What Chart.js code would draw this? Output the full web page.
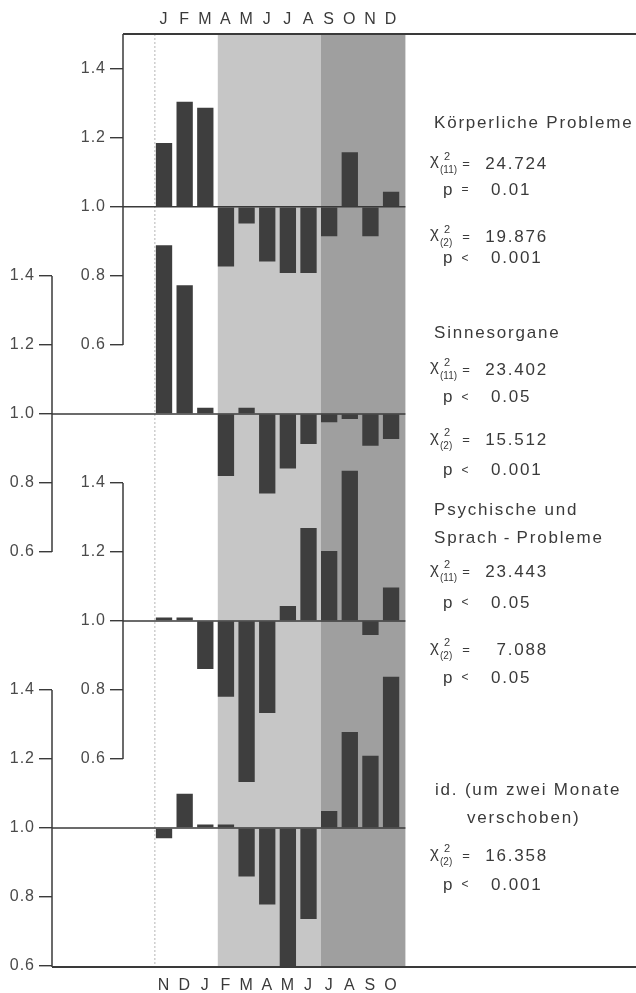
<!DOCTYPE html>
<html>
<head>
<meta charset="utf-8">
<script src="https://cdn.jsdelivr.net/npm/chart.js@4.4.1/dist/chart.umd.min.js"></script>
<style>
  html, body { margin: 0; padding: 0; background: #fff; }
</style>
</head>
<body>
<canvas id="myChart" width="636" height="993"></canvas>
<script>
// month labels: top row, and the row shifted by two months at the bottom
const topMonths = ["J", "F", "M", "A", "M", "J", "J", "A", "S", "O", "N", "D"];
const bottomMonths = ["N", "D", "J", "F", "M", "A", "M", "J", "J", "A", "S", "O"];

// relative frequency per month (1.0 = expected)
const koerperlich = [1.185, 1.305, 1.287, 0.827, 0.952, 0.842, 0.808, 0.808, 0.915, 1.158, 0.915, 1.044];
const sinnesorgane = [1.489, 1.373, 1.018, 0.82, 1.018, 0.769, 0.842, 0.913, 0.976, 0.985, 0.908, 0.927];
const psychisch = [1.01, 1.01, 0.861, 0.78, 0.533, 0.733, 1.043, 1.269, 1.203, 1.435, 0.959, 1.097];
const verschoben = [0.97, 1.099, 1.01, 1.01, 0.859, 0.778, 0.533, 0.736, 1.049, 1.278, 1.209, 1.438];

const yTicks = [0.6, 0.8, 1.0, 1.2, 1.4];

// statistics column
const statTitles = ["Körperliche Probleme", "Sinnesorgane", "Psychische und", "Sprach\u2009-\u2009Probleme", "id. (um zwei Monate", "verschoben)"];
const chiDf = ["11", "2", "11", "2", "11", "2", "2"];
const chiValue = ["24.724", "19.876", "23.402", "15.512", "23.443", "7.088", "16.358"];
const pSign = ["=", "<", "<", "<", "<", "<", "<"];
const pValue = ["0.01", "0.001", "0.05", "0.001", "0.05", "0.05", "0.001"];

const ink = "#3a3a3a";
const fontFamily = "'Liberation Sans', Arial, sans-serif";

// one y axis per panel, all the same scale, shifted by 0.6 units each
function panelAxis(min, max, weight, width) {
  return {
    type: "linear",
    position: "left",
    min: min,
    max: max,
    weight: weight,
    afterBuildTicks: function (s) {
      s.ticks = yTicks.map(function (v) { return { value: v }; });
    },
    afterFit: function (s) { s.width = width; },
    border: { display: false },
    grid: { drawOnChartArea: false, color: ink, tickColor: ink, tickLength: 13, lineWidth: 1.4 },
    ticks: {
      padding: 4,
      color: "#4a4a4a",
      font: { family: fontFamily, size: 16 },
      callback: function (v) { return v.toFixed(1); },
    },
  };
}

// bands, baselines, axis brackets, frame and the text column
const figurePlugin = {
  id: "figure",
  afterLayout: function (chart) {
    // y1 and y2 share the strip of y3 and y4, give them room for their labels
    chart.scales.y1.left = chart.scales.y3.left;
    chart.scales.y2.left = chart.scales.y4.left;
  },
  beforeDraw: function (chart) {
    const c = chart.ctx;
    const a = chart.chartArea;
    const bars = chart.getDatasetMeta(0).data;
    const edge = function (i) { return bars[i].x - bars[i].width / 2; };
    c.letterSpacing = "1px";
    c.save();
    c.fillStyle = "#c6c6c6";
    c.fillRect(edge(3), a.top, edge(8) - edge(3), a.bottom - a.top);
    c.fillStyle = "#9f9f9f";
    c.fillRect(edge(8), a.top, a.right + 4 - edge(8), a.bottom - a.top);
    c.strokeStyle = "#b5b5b5";
    c.lineWidth = 1;
    c.setLineDash([2, 2]);
    c.beginPath();
    c.moveTo(edge(0) - 1, a.top);
    c.lineTo(edge(0) - 1, a.bottom);
    c.stroke();
    c.restore();
  },
  afterDatasetsDraw: function (chart) {
    const c = chart.ctx;
    const a = chart.chartArea;
    c.save();
    c.strokeStyle = ink;
    c.lineWidth = 1.5;
    ["y1", "y2", "y3", "y4"].forEach(function (id, k) {
      const s = chart.scales[id];
      const top = k === 0 ? a.top : s.getPixelForValue(1.4);
      const bottom = k === 3 ? a.bottom : s.getPixelForValue(0.6);
      c.beginPath();
      c.moveTo(s.right, top);
      c.lineTo(s.right, bottom);
      c.stroke();
      const y = s.getPixelForValue(1);
      c.beginPath();
      c.moveTo(s.right, y);
      c.lineTo(a.right + 4, y);
      c.stroke();
    });
    c.lineWidth = 2.2;
    c.beginPath();
    c.moveTo(chart.scales.y1.right, a.top);
    c.lineTo(chart.width, a.top);
    c.stroke();
    c.beginPath();
    c.moveTo(chart.scales.y4.right, a.bottom);
    c.lineTo(chart.width, a.bottom);
    c.stroke();
    c.restore();
  },
  afterDraw: function (chart) {
    const c = chart.ctx;
    const titleX = [434, 434, 434, 434, 435, 467];
    const titleY = [123.5, 333, 510.5, 538.5, 790, 818.5];
    const chiY = [164, 237, 370, 440.5, 572.5, 650.5, 856.5];
    const pY = [190, 258.5, 397.5, 470.5, 603, 678, 885];
    c.save();
    c.fillStyle = ink;
    c.textBaseline = "middle";
    c.letterSpacing = "1.8px";
    c.font = "17px " + fontFamily;
    statTitles.forEach(function (t, i) { c.fillText(t, titleX[i], titleY[i]); });
    chiValue.forEach(function (v, i) {
      const y = chiY[i];
      c.letterSpacing = "0px";
      c.textAlign = "left";
      c.font = "17px " + fontFamily;
      c.fillText("\u03c7", 430, y - 3.5);
      c.font = "11px " + fontFamily;
      c.fillText("2", 444, y - 7.5);
      c.font = "10px " + fontFamily;
      c.fillText("(" + chiDf[i] + ")", 440, y + 6);
      c.textAlign = "center";
      c.font = "13px " + fontFamily;
      c.fillText("=", 466, y);
      c.textAlign = "right";
      c.letterSpacing = "1.8px";
      c.font = "17px " + fontFamily;
      c.fillText(v, 548, y);
    });
    pValue.forEach(function (v, i) {
      const y = pY[i];
      c.textAlign = "left";
      c.font = "17px " + fontFamily;
      c.fillText("p", 443, y);
      c.textAlign = "center";
      c.font = "12px " + fontFamily;
      c.fillText(pSign[i], 466, y);
      c.textAlign = "left";
      c.font = "17px " + fontFamily;
      c.fillText(v, 491, y);
    });
    c.restore();
  },
};

const ctx = document.getElementById("myChart");

const barStyle = { xAxisID: "x", backgroundColor: "#3e3e3e", borderWidth: 0 };

const myChart = new Chart(ctx, {
  type: "bar",
  data: {
    labels: topMonths,
    datasets: [
      Object.assign({ label: "Körperliche Probleme", data: koerperlich, yAxisID: "y1" }, barStyle),
      Object.assign({ label: "Sinnesorgane", data: sinnesorgane, yAxisID: "y2" }, barStyle),
      Object.assign({ label: "Psychische und Sprach-Probleme", data: psychisch, yAxisID: "y3" }, barStyle),
      Object.assign({ label: "id. (um zwei Monate verschoben)", data: verschoben, yAxisID: "y4" }, barStyle),
    ],
  },
  options: {
    responsive: false,
    animation: false,
    layout: { padding: { left: 0, top: 0, bottom: 0, right: 234.6 } },
    datasets: {
      bar: { base: 1, grouped: false, barPercentage: 0.79, categoryPercentage: 1, clip: 0 },
    },
    plugins: { legend: { display: false }, tooltip: { enabled: false } },
    scales: {
      x: {
        type: "category",
        position: "top",
        offset: true,
        afterFit: function (s) { s.height = 34; },
        grid: { display: false },
        border: { display: false },
        ticks: { padding: -3, color: ink, autoSkip: false, maxRotation: 0, font: { family: fontFamily, size: 16 } },
      },
      x2: {
        type: "category",
        position: "bottom",
        labels: bottomMonths,
        offset: true,
        afterFit: function (s) { s.height = 26; },
        grid: { display: false },
        border: { display: false },
        ticks: { padding: 1, color: ink, autoSkip: false, maxRotation: 0, font: { family: fontFamily, size: 16 } },
      },
      spacer: {
        type: "linear",
        position: "left",
        weight: 0,
        afterFit: function (s) { s.width = 30.7; },
        grid: { display: false },
        border: { display: false },
        ticks: { display: false },
      },
      y1: panelAxis(-1.203, 1.501, 1, 0),
      y3: panelAxis(-0.003, 2.701, 2, 71),
      y2: panelAxis(-0.603, 2.101, 3, 0),
      y4: panelAxis(0.597, 3.301, 4, 52),
    },
  },
  plugins: [figurePlugin],
});
</script>
</body>
</html>
